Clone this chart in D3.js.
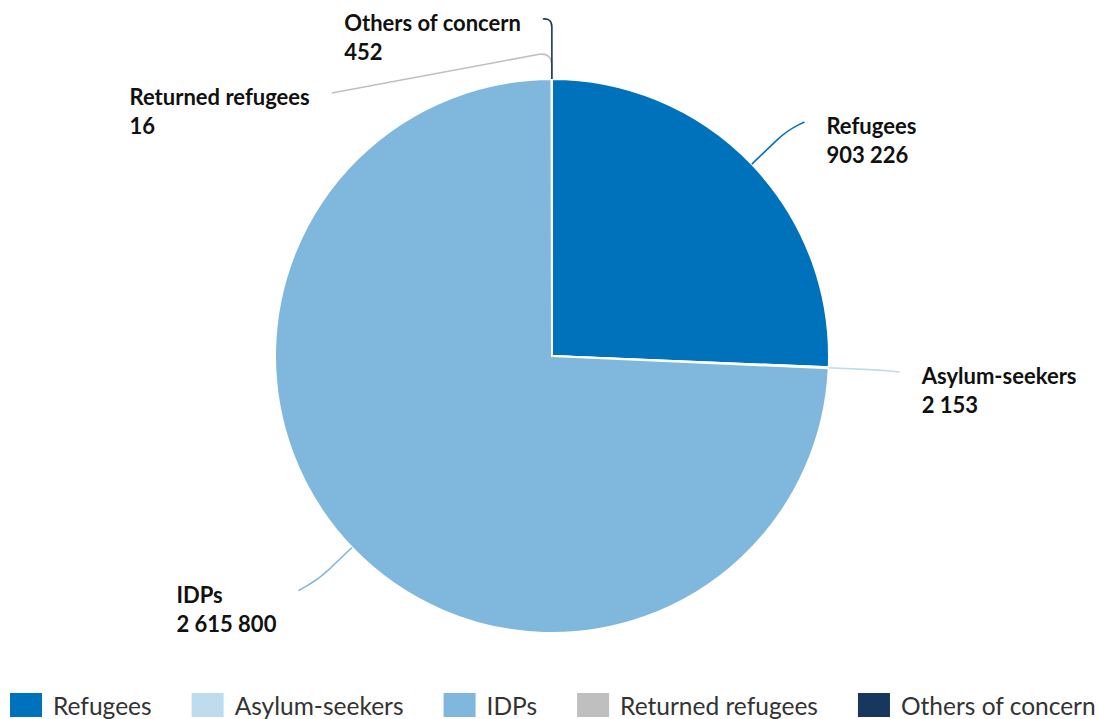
<!DOCTYPE html>
<html>
<head>
<meta charset="utf-8">
<script src="https://cdn.jsdelivr.net/npm/d3@7"></script>
<style>
  body { margin: 0; background: #fff; }
  svg { display: block; font-family: Lato, 'Open Sans', sans-serif; }
</style>
</head>
<body>
<script>
'use strict';

const width = 1098;
const height = 719;
const center = {x: 552, y: 356};
const radius = 277;

const categories = ['Refugees', 'Asylum-seekers', 'IDPs', 'Returned refugees', 'Others of concern'];
const values = [903226, 2153, 2615800, 16, 452];
const colors = ['#0072bc', '#bfdcee', '#7fb7dd', '#bfbfbf', '#18375f'];

// label line layout: radial first leg, then a short second leg (dx, dy)
const lineLen1 = [48, 50, 45, 27, 61];
const lineDx = [18, 21, -21, -220, -9];
const lineDy = [-9, 2, 12, 41, 1];

const numberFormat = v => d3.format(',')(v).replace(/,/g, ' ');

const data = categories.map((name, i) => ({name, value: values[i], color: colors[i], i}));

const pie = d3.pie()
    .sort(null)
    .value(d => d.value);

const arc = d3.arc()
    .innerRadius(0)
    .outerRadius(radius);

const svg = d3.select('body').append('svg')
    .attr('width', width)
    .attr('height', height);

const g = svg.append('g')
    .attr('transform', 'translate(' + center.x + ',' + center.y + ')');

const arcs = pie(data);

g.selectAll('path.slice')
    .data(arcs)
  .enter().append('path')
    .attr('class', 'slice')
    .attr('d', arc)
    .attr('fill', d => d.data.color)
    .attr('stroke', '#fff')
    .attr('stroke-width', 2)
    .attr('stroke-linejoin', 'round');

function labelPoints(d) {
  const a = (d.startAngle + d.endAngle) / 2;
  const ux = Math.sin(a);
  const uy = -Math.cos(a);
  const i = d.data.i;
  const p0 = [ux * radius, uy * radius];
  const p1 = [ux * (radius + lineLen1[i]), uy * (radius + lineLen1[i])];
  const p2 = [p1[0] + lineDx[i], p1[1] + lineDy[i]];
  return [p0, p1, p2];
}

function roundedPath(pts) {
  const [p0, p1, p2] = pts;
  const l1 = Math.hypot(p1[0] - p0[0], p1[1] - p0[1]);
  const l2 = Math.hypot(p2[0] - p1[0], p2[1] - p1[1]);
  const r = Math.min(14, l1 * 0.6, l2);
  const a = [p1[0] - (p1[0] - p0[0]) / l1 * r, p1[1] - (p1[1] - p0[1]) / l1 * r];
  const b = [p1[0] + (p2[0] - p1[0]) / l2 * r, p1[1] + (p2[1] - p1[1]) / l2 * r];
  return 'M' + p0 + 'L' + a + 'Q' + p1 + ' ' + b + 'L' + p2;
}

g.selectAll('path.label-line')
    .data(arcs)
  .enter().append('path')
    .attr('class', 'label-line')
    .attr('d', d => roundedPath(labelPoints(d)))
    .attr('fill', 'none')
    .attr('stroke', d => d.data.color)
    .attr('stroke-width', 1.6);

const labels = g.selectAll('text.label')
    .data(arcs)
  .enter().append('text')
    .attr('class', 'label')
    .attr('font-size', 22)
    .attr('font-weight', 700)
    .attr('fill', '#111');

labels.append('tspan')
    .attr('class', 'l1')
    .text(d => d.data.name);
labels.append('tspan')
    .attr('class', 'l2')
    .text(d => numberFormat(d.data.value));

labels.each(function(d) {
  const el = d3.select(this);
  const end = labelPoints(d)[2];
  const w = Math.max(
      el.select('.l1').node().getComputedTextLength(),
      el.select('.l2').node().getComputedTextLength());
  const right = lineDx[d.data.i] >= 0;
  const x = right ? end[0] + 22 : end[0] - 22 - w;
  el.select('.l1').attr('x', x).attr('y', end[1] + 12);
  el.select('.l2').attr('x', x).attr('y', end[1] + 41);
});

// legend
const legend = svg.append('g')
    .attr('class', 'legend');

let lx = 10;
data.forEach((d) => {
  const item = legend.append('g')
      .attr('transform', 'translate(' + lx + ',693)');
  item.append('rect')
      .attr('width', 32)
      .attr('height', 24)
      .attr('fill', d.color);
  const t = item.append('text')
      .attr('x', 43)
      .attr('y', 22)
      .attr('font-size', 24.5)
      .attr('fill', '#333')
      .text(d.name);
  lx += 43 + t.node().getComputedTextLength() + 40;
});
</script>
</body>
</html>
